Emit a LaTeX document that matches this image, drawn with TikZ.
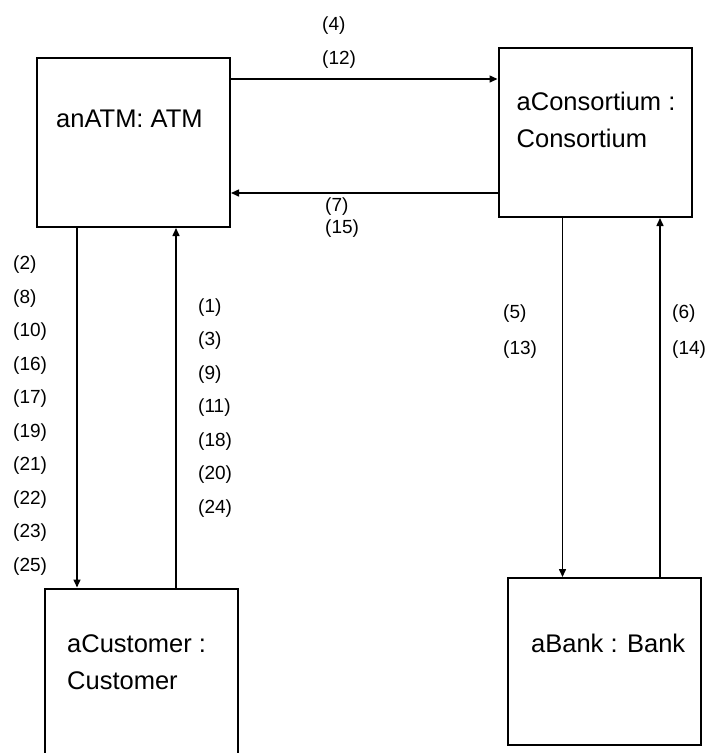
\documentclass[tikz,border=0pt]{standalone}
\usepackage{fontspec}
\setmainfont{Liberation Sans}
\usepackage{tikz}
\usetikzlibrary{positioning, arrows.meta, calc}

\begin{document}
\begin{tikzpicture}[x=1pt, y=-1pt,
    objbox/.style={draw, line width=2pt, minimum width=193pt, minimum height=169pt, inner sep=0pt},
    objname/.style={anchor=base west, inner sep=0pt, align=left, font=\fontsize{25.5}{37}\selectfont},
    msg/.style={line width=1.5pt, -{Triangle[length=8pt, width=7pt]}},
    seqlabel/.style={anchor=base west, inner sep=0pt, align=left, font=\fontsize{19}{33.5}\selectfont}]
  \useasboundingbox (0,0) rectangle (710,753);

  % Objetos
  \node[objbox] (atm)  at (133.5,142.5) {};
  \node[objbox] (cons) at (595,132.5) {};
  \node[objbox] (cust) at (141.5,673) {};
  \node[objbox, minimum height=167pt] (bank) at (604.5,661.5) {};
  \node[objname] (atmname)  at ([xshift=20pt, yshift=-70pt]atm.north west) {anATM: ATM};
  \node[objname] (consname) at ([xshift=19pt, yshift=-100pt]cons.north west) {aConsortium :\\Consortium};
  \node[objname] (custname) at ([xshift=23pt, yshift=-102pt]cust.north west) {aCustomer :\\Customer};
  \node[objname] (bankname) at ([xshift=24pt, yshift=-75pt]bank.north west) {aBank : Bank};

  % Mensagens entre objetos
  \draw[msg] ([yshift=-22pt]atm.north east) -- ([yshift=-22pt]atm.north east -| cons.west);
  \draw[msg] ([yshift=35pt]atm.south east -| cons.west) -- ([yshift=35pt]atm.south east);
  \draw[msg] ([xshift=41pt]atm.south west) -- ([xshift=41pt]atm.south west |- cust.north);
  \draw[msg] ([xshift=132pt]cust.north west) -- ([xshift=132pt]cust.north west |- atm.south);
  \draw[msg] ([xshift=65pt]cons.south west) -- ([xshift=65pt]cons.south west |- bank.north);
  \draw[msg] ([xshift=153pt]bank.north west) -- ([xshift=153pt]bank.north west |- cons.south);

  % Numeros de sequencia (ancora na ultima linha)
  \node[seqlabel] (l4) at (322,64) {(4)\\(12)};
  \node[seqlabel, font=\fontsize{19}{22}\selectfont] (l7) at (325,233) {(7)\\(15)};
  \node[seqlabel] (l2) at (13,571) {(2)\\(8)\\(10)\\(16)\\(17)\\(19)\\(21)\\(22)\\(23)\\(25)};
  \node[seqlabel] (l1) at (198,513) {(1)\\(3)\\(9)\\(11)\\(18)\\(20)\\(24)};
  \node[seqlabel, font=\fontsize{19}{36}\selectfont] (l5) at (503,354) {(5)\\(13)};
  \node[seqlabel, font=\fontsize{19}{36}\selectfont] (l6) at (672,354) {(6)\\(14)};
\end{tikzpicture}
\end{document}
